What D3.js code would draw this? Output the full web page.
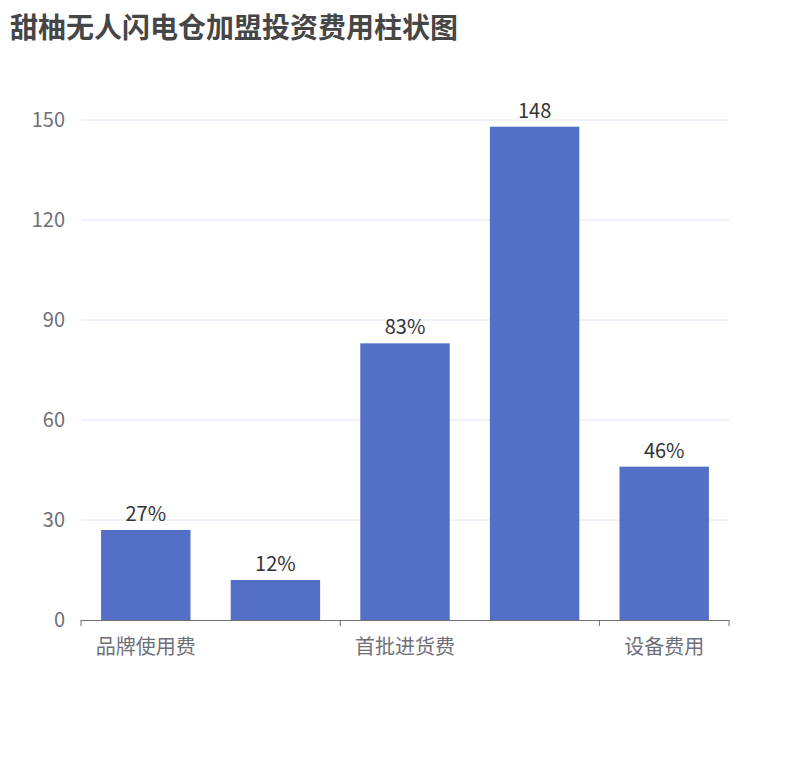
<!DOCTYPE html><html><head><meta charset="utf-8"><script src="https://cdn.jsdelivr.net/npm/d3@7/dist/d3.min.js"></script>
<style>body{margin:0;background:#fff}</style></head><body><svg id="c" width="810" height="760"></svg>
<script>
const categories=["品牌使用费","装修费用","首批进货费","保证金","设备费用"];
const shownLabels=[true,false,true,false,true];
const values=[27,12,83,148,46];
const valueLabels=["27%","12%","83%","148","46%"];
const yTicks=[0,30,60,90,120,150];
const tickBoundaries=[0,2,4,5];
const font="'Noto Sans CJK SC','Noto Sans',sans-serif";
const svg=d3.select("#c");
svg.append("text").attr("x",10).attr("y",38).attr("font-family",font).attr("font-weight","bold").attr("font-size",28).attr("fill","#464646").text("甜柚无人闪电仓加盟投资费用柱状图");
const x=d3.scaleBand().domain(categories).range([81,729]).paddingInner(0.31).paddingOuter(0.155);
const y=d3.scaleLinear().domain([0,150]).range([620,120]);
const step=x.step();
svg.selectAll(".g").data(yTicks.slice(1)).join("line").attr("x1",81).attr("x2",729).attr("y1",d=>y(d)).attr("y2",d=>y(d)).attr("stroke","#e0e6f1");
svg.selectAll(".yl").data(yTicks).join("text").attr("x",65).attr("y",d=>y(d)).attr("dy","0.35em").attr("text-anchor","end").attr("font-family",font).attr("font-size",20).attr("fill","#6e7079").text(d=>d);
svg.selectAll(".b").data(values).join("rect").attr("x",(d,i)=>x(categories[i])).attr("width",x.bandwidth()).attr("y",d=>y(d)).attr("height",d=>620-y(d)).attr("fill","#5470c6");
svg.selectAll(".vl").data(values).join("text").attr("x",(d,i)=>x(categories[i])+x.bandwidth()/2).attr("y",d=>y(d)-9).attr("text-anchor","middle").attr("font-family",font).attr("font-size",20).attr("fill","#333").text((d,i)=>valueLabels[i]);
svg.append("line").attr("x1",81).attr("x2",729).attr("y1",620.5).attr("y2",620.5).attr("stroke","#6e7079");
svg.selectAll(".t").data(tickBoundaries).join("line").attr("x1",d=>81+d*step).attr("x2",d=>81+d*step).attr("y1",620).attr("y2",626).attr("stroke","#6e7079");
svg.selectAll(".xl").data(categories.filter((c,i)=>shownLabels[i])).join("text").attr("x",d=>x(d)+x.bandwidth()/2).attr("y",654).attr("text-anchor","middle").attr("font-family",font).attr("font-size",20).attr("fill","#6e7079").text(d=>d);
</script></body></html>
